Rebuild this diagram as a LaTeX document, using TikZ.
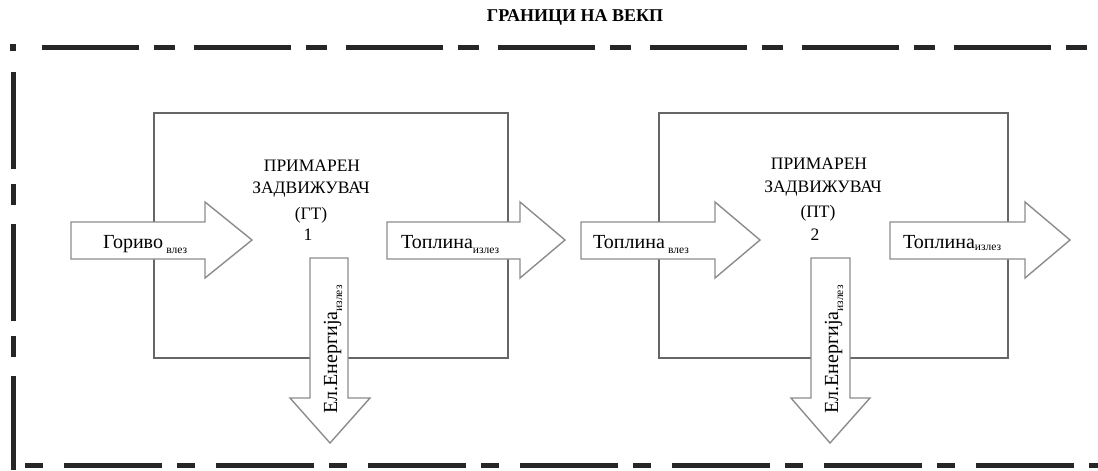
\documentclass[tikz,border=0pt]{standalone}
\usepackage{fontspec}
\setmainfont{Liberation Serif}
\newcommand\lowidx[1]{\raisebox{-5pt}{\fontsize{11.5}{12}\selectfont #1}}
\tikzset{
  border/.style={draw=black!85, line width=5pt,
    dash pattern=on 97pt off 15pt on 21pt off 19pt},
  unit/.style={draw=black!60, line width=1.8pt, inner sep=0pt},
  flow/.style={draw=black!45, fill=white, line width=1.4pt, line join=miter},
  lbl/.style={inner sep=0pt, font=\fontsize{17.5}{20}\selectfont},
  flowlbl/.style={inner sep=0pt, font=\fontsize{20}{22}\selectfont},
  heading/.style={inner sep=0pt, font=\fontsize{18}{20}\selectfont\bfseries}
}
\begin{document}
\begin{tikzpicture}[x=1pt,y=-1pt]
\useasboundingbox (0,0) rectangle (1098,471);

% system boundary
\node[heading] (title) at (575,17) {ГРАНИЦИ НА ВЕКП};
\fill[black!85] (10,44) rectangle (16,51);
\draw[border] (42,47) -- (1088,47);
\draw[border] (13,72) -- (13,470);
\draw[border, dash pattern=on 98pt off 15pt on 18pt off 21pt, dash phase=111pt]
  (23,465) -- (1098,465);

% prime movers
\node[unit, minimum width=354pt, minimum height=245pt] (gt) at (331,235.5) {};
\node[unit, minimum width=349pt, minimum height=245pt] (pt) at (833.5,235.5) {};

% horizontal flows
\draw[flow] (71,222) -- (205,222) -- (205,202) -- (252,240) -- (205,278) -- (205,259) -- (71,259) -- cycle;
\draw[flow] (387,222) -- (520,222) -- (520,202) -- (565,240) -- (520,278) -- (520,259) -- (387,259) -- cycle;
\draw[flow] (581,222) -- (715,222) -- (715,202) -- (760,240) -- (715,278) -- (715,259) -- (581,259) -- cycle;
\draw[flow] (890,222) -- (1025,222) -- (1025,202) -- (1070,240) -- (1025,278) -- (1025,259) -- (890,259) -- cycle;

% electricity outputs
\draw[flow] (310,258) -- (348,258) -- (348,398) -- (370,398) -- (330,443) -- (290,398) -- (310,398) -- cycle;
\draw[flow] (811,258) -- (850,258) -- (850,398) -- (870,398) -- (830,443) -- (791,398) -- (811,398) -- cycle;

% texts of unit 1
\node[lbl] (gt1) at (312,166) {ПРИМАРЕН};
\node[lbl] (gt2) at (311,190) {ЗАДВИЖУВАЧ};
\node[lbl] (gt3) at (311,215) {(ГТ)};
\node[lbl] (gt4) at (308,235) {1};

% texts of unit 2
\node[lbl] (pt1) at (819,164) {ПРИМАРЕН};
\node[lbl] (pt2) at (823,189) {ЗАДВИЖУВАЧ};
\node[lbl] (pt3) at (818,213) {(ПТ)};
\node[lbl] (pt4) at (815,235) {2};

% flow labels
\node[flowlbl, anchor=base west] (fuel) at (103,248) {Гориво\,\lowidx{влез}};
\node[flowlbl, anchor=base west] (heatout1) at (401,248) {Топлина\lowidx{излез}};
\node[flowlbl, anchor=base west] (heatin) at (593,248) {Топлина\,\lowidx{влез}};
\node[flowlbl, anchor=base west] (heatout2) at (903,248) {Топлина\raisebox{3pt}{\lowidx{излез}}};
\node[flowlbl, rotate=90, anchor=base west] (el1) at (337,414) {Ел.Енергија\lowidx{излез}};
\node[flowlbl, rotate=90, anchor=base west] (el2) at (838,414) {Ел.Енергија\lowidx{излез}};
\end{tikzpicture}
\end{document}
